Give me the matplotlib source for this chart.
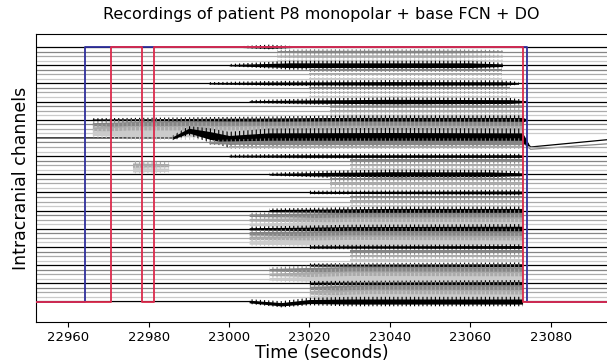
"""Stacked intracranial recordings of patient P8 with predicted (blue) and
annotated (red) seizure intervals drawn as step labels over the traces."""
import matplotlib

matplotlib.use("Agg")
import matplotlib.pyplot as plt
import numpy as np

# --- data ----------------------------------------------------------------
TIME_START, TIME_END = 22952.0, 23094.0
N_CHANNELS = 57

# predicted seizure interval (blue) and annotated intervals (red), seconds
pred_on, pred_off = [22964.2], [23074.1]
true_on, true_off = [22970.7, 22981.4], [22978.3, 23073.2]

# high-amplitude activity: channel groups (0 = top), knot times, half-amplitudes
burst_channels = [
    [0], [1, 2, 3], [4], [5, 6, 7], [8], [9, 10, 11], [12], [13, 14, 15],
    [16], [17], [18, 19], [20], [21], [22], [24], [26, 27], [25, 26, 27],
    [28], [29, 30, 31], [32], [33, 34, 35], [36], [37, 38, 39], [40],
    [41, 42, 43], [44], [45, 46, 47], [48], [49, 50, 51], [52], [53, 54, 55], [56],
]
burst_times = [
    [23003, 23010, 23016], [23012, 23020, 23055, 23068], [23000, 23010, 23015, 23060, 23068],
    [23020, 23068], [22995, 23010, 23040, 23068, 23072], [23020, 23070],
    [23005, 23020, 23040, 23070, 23074], [23025, 23073],
    [22966, 22990, 23010, 23030, 23073, 23074], [22966, 22975, 22990, 23030, 23073],
    [22966, 22975, 23030, 23073], [22986, 22995, 23010, 23040, 23073, 23074.5],
    [22995, 23010, 23073], [23000, 23073], [23000, 23020, 23073], [22976, 22985],
    [23030, 23073], [23010, 23025, 23040, 23065, 23073], [23025, 23073],
    [23020, 23073], [23030, 23073], [23010, 23040, 23073], [23005, 23030, 23073],
    [23005, 23030, 23073], [23005, 23030, 23073], [23020, 23073], [23030, 23073],
    [23020, 23073], [23010, 23030, 23073], [23020, 23073], [23020, 23035, 23073],
    [23005, 23030, 23073],
]
burst_amps = [
    [0.15, 0.4, 0.15], [0.3, 0.4, 0.4, 0.25], [0.2, 0.55, 0.75, 0.75, 0.4],
    [0.3, 0.3], [0.2, 0.4, 0.55, 0.5, 0.25], [0.3, 0.3],
    [0.25, 0.5, 0.7, 0.6, 0.25], [0.35, 0.4],
    [0.25, 0.4, 0.55, 0.75, 0.75, 0.25], [0.5, 0.85, 0.95, 1.05, 0.95],
    [0.65, 1.05, 1.15, 1.1], [0.4, 1.2, 1.6, 1.7, 1.6, 0.4],
    [0.4, 0.7, 0.7], [0.4, 0.4], [0.25, 0.4, 0.4], [0.7, 0.5],
    [0.4, 0.4], [0.25, 0.6, 0.8, 0.75, 0.45], [0.4, 0.4],
    [0.3, 0.45], [0.4, 0.4], [0.35, 0.7, 0.7], [0.4, 0.9, 0.9],
    [0.35, 0.7, 0.8], [0.55, 0.95, 0.8], [0.35, 0.45], [0.4, 0.4],
    [0.3, 0.45], [0.4, 1.05, 0.95], [0.4, 0.55], [0.55, 1.05, 0.95],
    [0.4, 0.8, 0.8],
]

# slow baseline shifts (channel units) of a few channels
drift_channels = [20, 21, 56]
drift_times = [
    [22986, 22990, 22994, 23000, 23010, 23073, 23075, 23094],
    [23073, 23075, 23094],
    [23005, 23013, 23020],
]
drift_offsets = [
    [0, 1.6, 0.8, -0.4, 0, 0, -2.0, -0.4],
    [0, -1.5, -0.3],
    [0, -0.6, 0],
]
# -------------------------------------------------------------------------

GRAYS = ["#000000", "#858585", "#aaaaaa", "#cbcbcb"]
plt.rcParams["hatch.linewidth"] = 0.8


def baseline(ch, t):
    y = np.full(len(t), -float(ch))
    if ch in drift_channels:
        k = drift_channels.index(ch)
        y += np.interp(t, drift_times[k], drift_offsets[k], left=0, right=drift_offsets[k][-1])
    return y


fig = plt.figure(figsize=(6.07, 3.61), dpi=100)
ax = fig.add_axes([36 / 607, 1 - 322 / 361, 1 - 36 / 607, 288 / 361])

for ch in range(N_CHANNELS):
    t = np.array([TIME_START, TIME_END])
    if ch in drift_channels:
        t = np.union1d(t, drift_times[drift_channels.index(ch)])
    ax.plot(t, baseline(ch, t), color=GRAYS[ch % 4], lw=0.9, zorder=2)

for chans, times, amps in zip(burst_channels, burst_times, burst_amps):
    for ch in chans:
        t = np.array(times, dtype=float)
        if ch in drift_channels:
            k = drift_channels.index(ch)
            t = np.union1d(t, [d for d in drift_times[k] if times[0] < d < times[-1]])
        a = np.interp(t, times, amps)
        y = baseline(ch, t)
        color = GRAYS[ch % 4]
        # solid core plus vertical strokes reaching out for the spiky edge
        ax.fill_between(t, y - 1.3 * a, y + 1.3 * a, facecolor="none", edgecolor=color,
                        hatch="||||", lw=0, zorder=2)
        ax.fill_between(t, y - 0.7 * a, y + 0.7 * a, color=color, lw=0, zorder=2)


def step_label(on, off):
    t, v = [TIME_START], [0]
    for a, b in zip(on, off):
        t += [a, a, b, b]
        v += [0, 1, 1, 0]
    t.append(TIME_END)
    v.append(0)
    return np.array(t), -(N_CHANNELS - 1) + (N_CHANNELS - 1) * np.array(v)


ax.plot(*step_label(pred_on, pred_off), color="#2f2f9c", lw=1.3, zorder=4)
ax.plot(*step_label(true_on, true_off), color="#dc2a4c", lw=1.3, zorder=5)

ax.set_xlim(TIME_START, TIME_END)
ax.set_ylim(-60.5, 2.86)
ax.set_yticks([])
ax.set_xticks([22960, 22980, 23000, 23020, 23040, 23060, 23080])
ax.tick_params(axis="x", labelsize=9.5, pad=3)
ax.spines["right"].set_visible(False)
ax.set_title("Recordings of patient P8 monopolar + base FCN + DO", fontsize=11.5, pad=11)
ax.set_xlabel("Time (seconds)", fontsize=12.5, labelpad=0)
ax.set_ylabel("Intracranial channels", fontsize=12.5)

fig.savefig("out.png", dpi=100)
